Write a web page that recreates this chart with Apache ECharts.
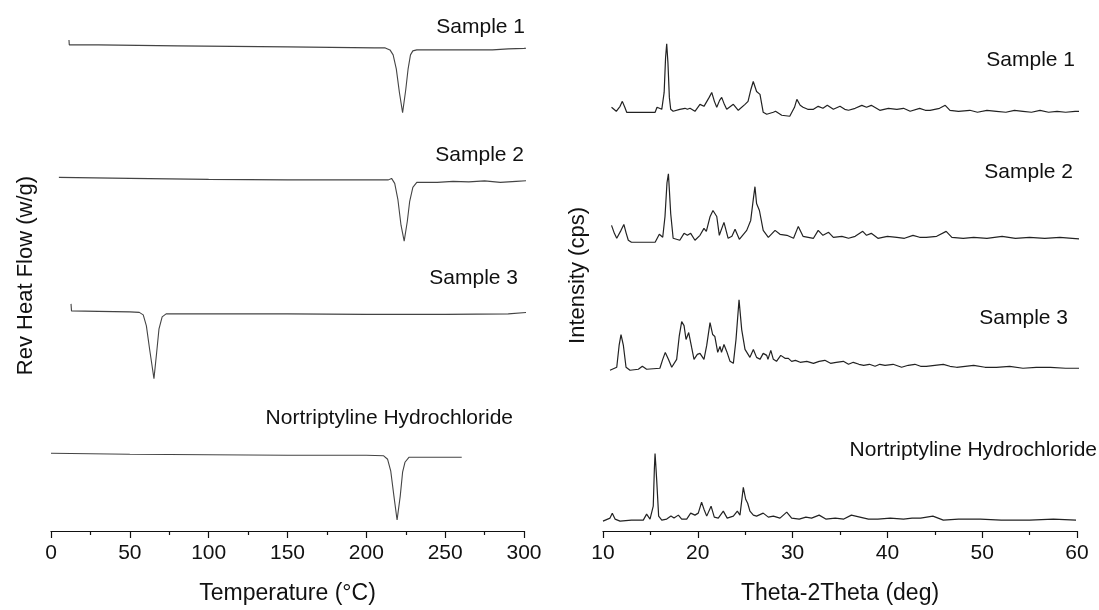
<!DOCTYPE html>
<html>
<head>
<meta charset="utf-8">
<script src="https://cdn.jsdelivr.net/npm/echarts@6/dist/echarts.min.js"></script>
<style>
  html, body { margin: 0; padding: 0; background: #fff; }
  #chart { width: 1099px; height: 610px; }
</style>
</head>
<body>
<div id="chart"></div>
<script>
// DSC: temperature (°C) vs rev heat flow, relative to each trace's baseline
var dscNames = ['Sample 1', 'Sample 2', 'Sample 3', 'Nortriptyline Hydrochloride']
var dscOffsets = [48.8, 35.5, 22.1, 7.8]
var dscSample1 = [[11.4, 0.5], [11.6, 0], [30, 0], [80, -0.1], [150, -0.2], [205, -0.3], [212, -0.3], [215, -0.5], [217, -1.0], [219, -2.4], [221, -4.8], [223, -6.8], [225, -4.5], [226.5, -2.4], [228, -1.0], [229.5, -0.6], [232, -0.5], [260, -0.5], [280, -0.5], [290, -0.4], [300, -0.35], [305, -0.3]]
var dscSample2 = [[5, 0], [50, -0.1], [100, -0.2], [150, -0.25], [200, -0.25], [214, -0.25], [216, -0.1], [218, -0.6], [220, -2.2], [222, -4.8], [224, -6.4], [226, -4.4], [227.5, -2.4], [229.5, -1.0], [232, -0.5], [245, -0.5], [255, -0.4], [265, -0.45], [275, -0.35], [285, -0.5], [295, -0.4], [305, -0.3]]
var dscSample3 = [[12.7, 0.7], [13, 0], [30, -0.05], [50, -0.1], [56, -0.15], [58.5, -0.4], [60.5, -1.5], [62.5, -3.8], [65.3, -6.8], [67, -4.2], [68.5, -1.8], [70.5, -0.6], [73, -0.3], [100, -0.3], [150, -0.3], [200, -0.35], [250, -0.35], [290, -0.3], [306, -0.1]]
var dscNortrip = [[0, 0], [50, -0.1], [100, -0.15], [150, -0.2], [200, -0.2], [211, -0.25], [213.5, -0.6], [215.5, -1.8], [217.5, -4.3], [219.5, -6.7], [221.5, -4.3], [223, -1.9], [224.5, -0.9], [227, -0.4], [240, -0.4], [260.5, -0.4]]

// XRD: 2theta (deg) vs intensity (a.u.)
var xrdOffsets = [417, 289, 160, 8]
var xrdSample1 = [[10.9, 10], [11.4, 6], [11.8, 11], [12.04, 16], [12.3, 10], [12.5, 5], [13.5, 5], [14.5, 5], [15.5, 5], [15.7, 10], [16.2, 8], [16.45, 25], [16.6, 60], [16.72, 74], [16.85, 55], [17.0, 20], [17.14, 8], [17.4, 6], [18.1, 8], [18.65, 9], [18.9, 8], [19.18, 9], [19.7, 6], [20.23, 13], [20.65, 11], [21.2, 20], [21.47, 25], [21.75, 16], [22.0, 10], [22.3, 17], [22.52, 20], [22.8, 13], [23.05, 8], [23.75, 13], [24.27, 7], [24.98, 13], [25.3, 16], [25.6, 28], [25.85, 36], [26.2, 26], [26.56, 23], [26.9, 5], [27.27, 3], [27.97, 5], [28.2, 6], [28.85, 2], [29.7, 1], [30.2, 10], [30.45, 18], [30.8, 12], [31.1, 10], [31.6, 8], [32.2, 8], [32.7, 11], [33.2, 9], [33.66, 12], [34.3, 8], [35.0, 11], [35.5, 8], [35.9, 7], [36.6, 9], [37.3, 12], [37.8, 10], [38.3, 12], [39.2, 7], [40.1, 9], [41.0, 8], [41.7, 9], [42.4, 6], [43.4, 9], [44.0, 7], [44.5, 7], [45.5, 9], [46.1, 12], [46.6, 7], [47.5, 6], [48.7, 7], [49.5, 5], [50.5, 7], [51.5, 6], [52.5, 5], [53.4, 7], [54.3, 6], [55.2, 5], [56.1, 7], [57.0, 5], [57.9, 6], [58.8, 5], [59.8, 6], [60.85, 6]]
var xrdSample2 = [[10.9, 19], [11.2, 11], [11.45, 6], [11.9, 14], [12.2, 20], [12.45, 11], [12.67, 4], [13.0, 2], [14.5, 2], [15.5, 2], [15.94, 10], [16.3, 7], [16.54, 28], [16.75, 62], [16.9, 71], [17.0, 55], [17.14, 31], [17.4, 6], [18.1, 4], [18.55, 11], [18.9, 9], [19.25, 11], [19.7, 4], [20.23, 9], [20.65, 16], [20.9, 13], [21.3, 28], [21.6, 34], [22.0, 28], [22.27, 9], [22.76, 22], [23.2, 6], [23.6, 8], [23.93, 15], [24.38, 5], [25.16, 14], [25.58, 24], [25.85, 45], [26.03, 58], [26.2, 41], [26.5, 34], [26.9, 14], [27.44, 7], [28.15, 14], [28.67, 10], [29.4, 9], [30.1, 6], [30.6, 18], [31.1, 8], [32.2, 6], [32.7, 14], [33.2, 9], [33.8, 12], [34.3, 7], [35.2, 8], [35.9, 6], [36.6, 8], [37.4, 13], [37.8, 9], [38.3, 11], [39.0, 6], [40.0, 8], [41.0, 7], [41.8, 6], [42.7, 9], [43.4, 7], [44.1, 7], [45.2, 8], [46.2, 13], [46.8, 7], [48.0, 6], [49.1, 7], [50.5, 6], [52.1, 8], [53.5, 6], [55.0, 7], [56.6, 6], [58.2, 7], [59.5, 6], [60.85, 5]]
var xrdSample3 = [[10.74, 2], [11.45, 5], [11.7, 27], [11.9, 38], [12.15, 27], [12.43, 5], [12.85, 2], [13.73, 3], [14.15, 6], [14.6, 3], [16.0, 4], [16.3, 13], [16.57, 20], [16.9, 13], [17.25, 5], [17.77, 13], [18.05, 37], [18.3, 51], [18.55, 47], [18.76, 33], [19.04, 40], [19.35, 25], [19.6, 13], [19.95, 18], [20.23, 19], [20.65, 13], [20.94, 27], [21.29, 50], [21.57, 38], [21.8, 36], [22.1, 20], [22.34, 26], [22.5, 20], [22.76, 28], [23.05, 21], [23.4, 11], [23.75, 9], [24.03, 33], [24.35, 73], [24.63, 43], [24.98, 23], [25.5, 15], [25.86, 23], [26.2, 15], [26.56, 13], [26.9, 19], [27.27, 17], [27.4, 13], [27.7, 22], [27.97, 13], [28.3, 11], [28.75, 17], [29.2, 14], [29.55, 14], [29.9, 11], [30.3, 12], [30.8, 10], [31.5, 11], [32.2, 9], [32.8, 11], [33.4, 12], [34.0, 9], [34.6, 10], [35.35, 11], [35.9, 8], [36.4, 10], [37.0, 8], [37.5, 7], [38.1, 8], [38.7, 6], [39.2, 8], [39.75, 7], [40.6, 8], [41.5, 5], [42.2, 7], [42.9, 8], [43.5, 6], [44.1, 6], [45.0, 7], [45.9, 8], [46.6, 6], [47.3, 5], [48.2, 6], [49.1, 7], [50.3, 5], [51.5, 5], [52.9, 6], [54.3, 4], [55.7, 5], [57.2, 5], [58.8, 4], [60.55, 4]]
var xrdNortrip = [[10.0, 2], [10.74, 5], [10.98, 10], [11.27, 4], [11.8, 2], [13.0, 3], [14.25, 3], [14.6, 9], [14.96, 4], [15.3, 17], [15.42, 55], [15.49, 70], [15.56, 60], [15.66, 44], [15.87, 7], [16.2, 3], [16.72, 4], [17.17, 7], [17.49, 5], [17.95, 8], [18.3, 4], [18.83, 4], [19.25, 10], [19.7, 8], [20.05, 10], [20.4, 21], [20.65, 14], [20.94, 7], [21.4, 17], [21.74, 6], [22.16, 5], [22.69, 12], [23.1, 5], [23.75, 7], [24.17, 12], [24.45, 8], [24.8, 36], [25.05, 24], [25.26, 20], [25.5, 12], [25.86, 8], [26.2, 7], [26.9, 10], [27.44, 6], [27.97, 7], [28.67, 5], [29.38, 11], [29.9, 5], [30.7, 4], [31.4, 6], [32.0, 5], [32.8, 8], [33.5, 4], [34.5, 5], [35.4, 4], [36.2, 8], [37.1, 6], [38.0, 4], [39.0, 4], [40.3, 5], [41.7, 4], [42.6, 5], [43.5, 5], [44.8, 7], [45.9, 3], [47.5, 4], [49.8, 4], [52.0, 3], [55.0, 3], [57.5, 4], [59.9, 3]]

var dscData = [dscSample1, dscSample2, dscSample3, dscNortrip]
var xrdData = [xrdSample1, xrdSample2, xrdSample3, xrdNortrip]

var font = "'Liberation Sans', Arial, sans-serif"
var ink = '#111'

function shift (data, offset) {
  return data.map(function (p) { return [p[0], p[1] + offset] })
}

function xAxisFor (gridIndex, min, max, interval, name) {
  return {
    gridIndex: gridIndex,
    type: 'value',
    min: min,
    max: max,
    interval: interval,
    name: name,
    nameLocation: 'middle',
    nameGap: 51,
    nameTextStyle: { fontFamily: font, fontSize: 23, color: ink },
    axisLine: { show: true, lineStyle: { color: ink, width: 1.2 } },
    axisTick: { show: true, length: 7, lineStyle: { color: ink, width: 1.2 } },
    minorTick: { show: true, splitNumber: 2, length: 4, lineStyle: { color: ink, width: 1.2 } },
    axisLabel: { fontFamily: font, fontSize: 21, color: ink, margin: 12 },
    splitLine: { show: false }
  }
}

function yAxisFor (gridIndex, max, name) {
  return {
    gridIndex: gridIndex,
    type: 'value',
    min: 0,
    max: max,
    name: name,
    nameLocation: 'middle',
    nameGap: 14,
    nameTextStyle: { fontFamily: font, fontSize: 22, color: ink },
    axisLine: { show: false },
    axisTick: { show: false },
    axisLabel: { show: false },
    splitLine: { show: false }
  }
}

var series = []
dscData.forEach(function (d, i) {
  series.push({
    name: 'DSC ' + dscNames[i],
    type: 'line',
    xAxisIndex: 0,
    yAxisIndex: 0,
    data: shift(d, dscOffsets[i]),
    showSymbol: false,
    clip: false,
    lineStyle: { color: '#444', width: 1.1 }
  })
})
xrdData.forEach(function (d, i) {
  series.push({
    name: 'XRD ' + dscNames[i],
    type: 'line',
    xAxisIndex: 1,
    yAxisIndex: 1,
    data: shift(d, xrdOffsets[i]),
    showSymbol: false,
    clip: false,
    lineStyle: { color: '#222', width: 1.2 }
  })
})

// trace captions
var captions = [
  { text: dscNames[0], x: 525, y: 27 },
  { text: dscNames[1], x: 524, y: 155 },
  { text: dscNames[2], x: 518, y: 278 },
  { text: dscNames[3], x: 513, y: 418 },
  { text: dscNames[0], x: 1075, y: 60 },
  { text: dscNames[1], x: 1073, y: 172 },
  { text: dscNames[2], x: 1068, y: 318 },
  { text: dscNames[3], x: 1097, y: 450 }
]

var chart = echarts.init(document.getElementById('chart'))
chart.setOption({
  backgroundColor: '#fff',
  animation: false,
  grid: [
    { left: 51, width: 473, top: 20, bottom: 77 },
    { left: 603, width: 474, top: 20, bottom: 75 }
  ],
  xAxis: [
    xAxisFor(0, 0, 300, 50, 'Temperature (°C)'),
    xAxisFor(1, 10, 60, 10, 'Theta-2Theta (deg)')
  ],
  yAxis: [
    yAxisFor(0, 51.3, 'Rev Heat Flow (w/g)'),
    yAxisFor(1, 515, 'Intensity (cps)')
  ],
  series: series,
  graphic: captions.map(function (c) {
    return {
      type: 'text',
      x: c.x,
      y: c.y,
      style: {
        text: c.text,
        fontFamily: font,
        fontSize: 21,
        fill: ink,
        textAlign: 'right',
        textVerticalAlign: 'middle'
      }
    }
  })
})
</script>
</body>
</html>
